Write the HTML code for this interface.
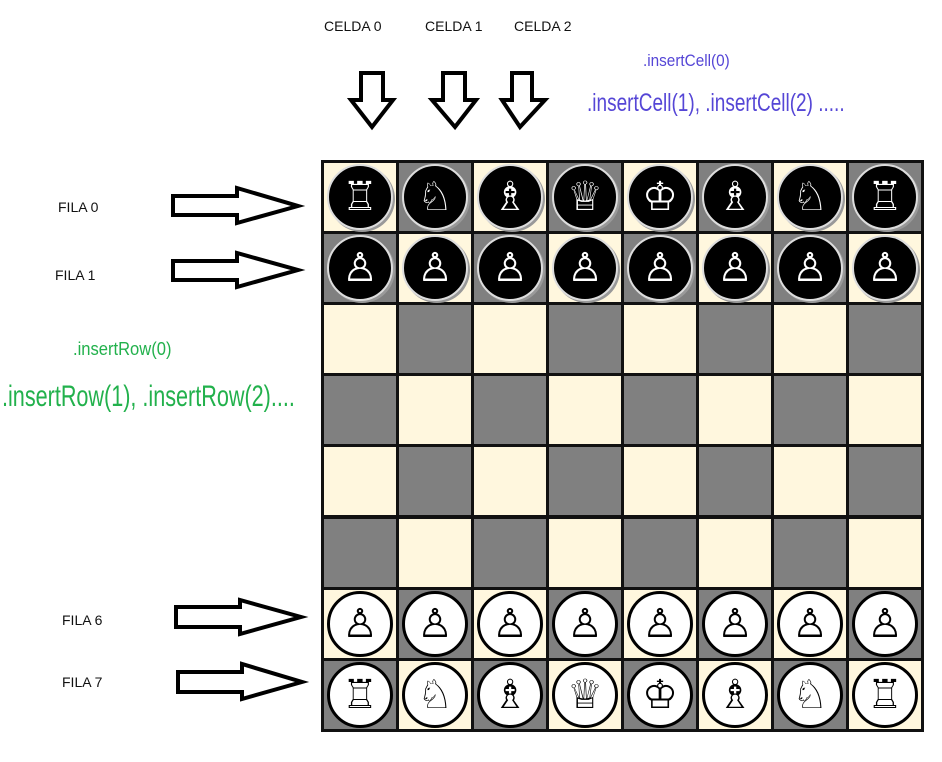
<!DOCTYPE html>
<html><head><meta charset="utf-8"><style>
body{margin:0;width:942px;height:762px;background:#fff;position:relative;overflow:hidden;font-family:"Liberation Sans",sans-serif}
.t{position:absolute;font-size:14px;color:#111;white-space:nowrap}
.c{position:absolute;width:72px;height:68px}
.L{background:#fff7de}.D{background:#808080}
.p{position:absolute;left:3px;top:1px;width:62px;height:62px;border-radius:50%;text-align:center;line-height:62px;font-size:40px;font-family:"DejaVu Sans",sans-serif}
.b{background:#000;color:#fff;border:2px solid #ddd;box-shadow:2px 2px 0 #999}
.w{background:#fff;color:#000;border:3px solid #000;width:60px;height:60px;line-height:60px}
.g{position:absolute;color:#22b14c;white-space:nowrap;transform-origin:0 0}
.v{position:absolute;color:#5546d6;white-space:nowrap;transform-origin:0 0}
</style></head><body>
<svg width="942" height="762" style="position:absolute;left:0;top:0" fill="#fff" stroke="#000" stroke-width="4" stroke-linejoin="miter">
<polygon points="173,196 237,196 237,188 298,206 237,223 237,215 173,215"/>
<polygon points="173,261 237,261 237,253 298,270 237,287 237,280 173,280"/>
<polygon points="176,607 240,607 240,600 301,617 240,634 240,627 176,627"/>
<polygon points="178,672 242,672 242,664 302,682 242,699 242,692 178,692"/>
<polygon points="361,73 383,73 383,100 393,100 372,127 351,100 361,100"/>
<polygon points="443,73 465,73 465,100 476,100 455,127 432,100 443,100"/>
<polygon points="512,73 532,73 532,100 545,100 520,127 502,100 512,100"/>
</svg>
<div class="t" style="left:324px;top:18px">CELDA 0</div>
<div class="t" style="left:425px;top:18px">CELDA 1</div>
<div class="t" style="left:514px;top:18px">CELDA 2</div>
<div class="t" style="left:58px;top:199px">FILA 0</div>
<div class="t" style="left:55px;top:267px">FILA 1</div>
<div class="t" style="left:62px;top:612px">FILA 6</div>
<div class="t" style="left:62px;top:674px">FILA 7</div>
<div class="g" style="left:73px;top:339px;font-size:18px;transform:scaleX(0.92)">.insertRow(0)</div>
<div class="g" style="left:2px;top:380px;font-size:30px;transform:scaleX(0.72)">.insertRow(1), .insertRow(2)....</div>
<div class="v" style="left:643px;top:51px;font-size:17px;transform:scaleX(0.9)">.insertCell(0)</div>
<div class="v" style="left:587px;top:89px;font-size:25px;transform:scaleX(0.76)">.insertCell(1), .insertCell(2) .....</div>
<div style="position:absolute;left:321px;top:160px;width:603px;height:572px;background:#111">
<div id="g"></div>
</div>
<script>
var back=['♖','♘','♗','♕','♔','♗','♘','♖'];
var h='';
for(var r=0;r<8;r++)for(var c=0;c<8;c++){
 var x=3+c*75,y=3+r*71.1;
 var cls=((r+c)%2==0)?'L':'D';
 var inner='';
 if(r==0)inner='<div class="p b">'+back[c]+'</div>';
 if(r==1)inner='<div class="p b">♙</div>';
 if(r==6)inner='<div class="p w">♙</div>';
 if(r==7)inner='<div class="p w">'+back[c]+'</div>';
 h+='<div class="c '+cls+'" style="left:'+x+'px;top:'+y.toFixed(1)+'px">'+inner+'</div>';
}
document.getElementById('g').innerHTML=h;
</script>
</body></html>
